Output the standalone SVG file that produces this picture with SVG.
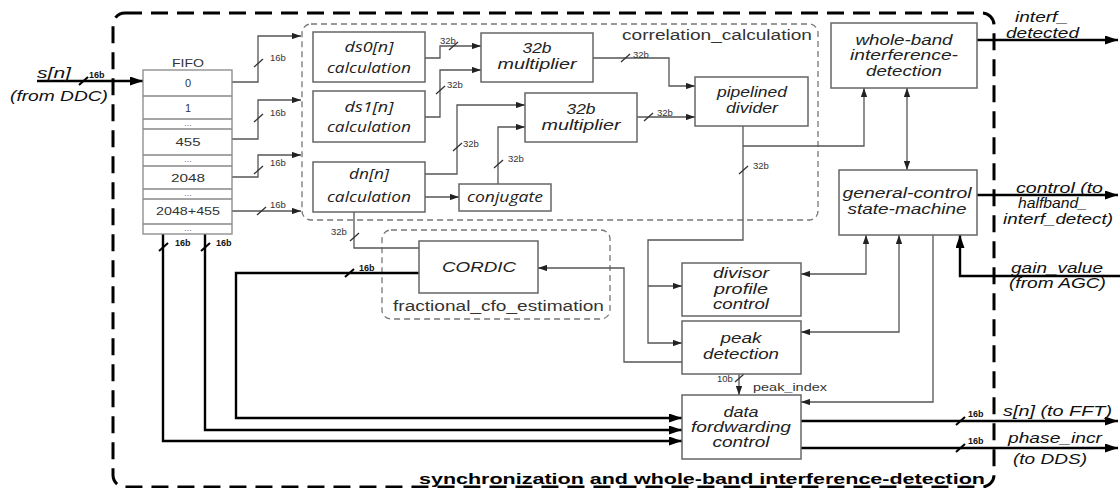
<svg xmlns="http://www.w3.org/2000/svg" width="1120" height="488" viewBox="0 0 1120 488">
  <defs>
    <style>
      .box{fill:#fff;stroke:#666;stroke-width:1.5}
      .fifo{fill:#fff;stroke:#888;stroke-width:1.3}
      .grp{fill:none;stroke:#777;stroke-width:1.3;stroke-dasharray:6 4}
      .outer{fill:none;stroke:#000;stroke-width:3;stroke-dasharray:17 9}
      .w{fill:none;stroke:#555;stroke-width:1.3}
      .bus{fill:none;stroke:#000;stroke-width:2.4}
      .sl{stroke:#333;stroke-width:1.3}
      .slb{stroke:#000;stroke-width:2}
      text{font-family:"Liberation Sans",Arial,sans-serif}
      .ci{font-family:"Open Sans",sans-serif;font-style:italic;font-size:14px;fill:#222;text-anchor:middle}
      .ai{font-style:italic;font-size:14px;fill:#222;text-anchor:middle}
      .io{font-style:italic;font-size:14px;fill:#111}
      .lab{font-size:9.5px;fill:#333}
      .bb{font-weight:bold;font-size:9px;fill:#111}
      .num{font-size:11px;fill:#333;text-anchor:middle}
      .dots{font-size:9px;fill:#777;text-anchor:middle}
      .gname{font-size:14px;fill:#333}
    </style>
    <marker id="ar" viewBox="0 0 10 7" refX="10" refY="3.5" markerWidth="9" markerHeight="6.5" markerUnits="userSpaceOnUse" orient="auto-start-reverse">
      <path d="M0,0L10,3.5L0,7z" fill="#222"/>
    </marker>
    <marker id="arb" viewBox="0 0 13 9" refX="13" refY="4.5" markerWidth="13" markerHeight="9" markerUnits="userSpaceOnUse" orient="auto">
      <path d="M0,0L13,4.5L0,9z" fill="#000"/>
    </marker>
  </defs>

  <rect width="1120" height="488" fill="#fff"/>

  <!-- enclosing block -->
  <g id="sync-block">
    <rect class="outer" x="113" y="13" width="881" height="474" rx="12"/>
    <text x="985" y="484" font-weight="bold" font-size="15" text-anchor="end" textLength="566" lengthAdjust="spacingAndGlyphs">synchronization and whole-band interference-detection</text>
  </g>

  <!-- sub-block frames -->
  <g id="correlation_calculation">
    <rect class="grp" x="302" y="24" width="516" height="196" rx="9"/>
    <text class="gname" x="622" y="40" textLength="190" lengthAdjust="spacingAndGlyphs">correlation_calculation</text>
  </g>
  <g id="fractional_cfo_estimation">
    <rect class="grp" x="382" y="230" width="228" height="89" rx="9"/>
    <text class="gname" x="393" y="311" textLength="211" lengthAdjust="spacingAndGlyphs">fractional_cfo_estimation</text>
  </g>

  <!-- connectors -->
  <g id="connectors">
    <!-- input and FIFO taps -->
    <path class="bus" d="M37,81H143" marker-end="url(#arb)"/>
    <path class="w" d="M232,82H258V36H301" marker-end="url(#ar)"/>
    <path class="w" d="M232,139H258V100H301" marker-end="url(#ar)"/>
    <path class="w" d="M232,177H258V155H301" marker-end="url(#ar)"/>
    <path class="w" d="M232,211H301" marker-end="url(#ar)"/>

    <!-- correlation datapath -->
    <path class="w" d="M425,58H440V46H481" marker-end="url(#ar)"/>
    <path class="w" d="M425,117H440V70H481" marker-end="url(#ar)"/>
    <path class="w" d="M425,174H457V105H525" marker-end="url(#ar)"/>
    <path class="w" d="M425,197H459" marker-end="url(#ar)"/>
    <path class="w" d="M498,184V127H525" marker-end="url(#ar)"/>
    <path class="w" d="M593,58H669V86H695" marker-end="url(#ar)"/>
    <path class="w" d="M637,117H695" marker-end="url(#ar)"/>

    <!-- divider output fan-out -->
    <path class="w" d="M743,126V240H648V343H682" marker-end="url(#ar)"/>
    <path class="w" d="M648,286H682" marker-end="url(#ar)"/>
    <path class="w" d="M743,146H864V88" marker-end="url(#ar)"/>

    <!-- control links -->
    <path class="w" d="M907,88V170" marker-start="url(#ar)" marker-end="url(#ar)"/>
    <path class="w" d="M801,274H866V235" marker-start="url(#ar)" marker-end="url(#ar)"/>
    <path class="w" d="M801,332H899V235" marker-start="url(#ar)" marker-end="url(#ar)"/>
    <path class="w" d="M933,235V402H801" marker-end="url(#ar)"/>

    <!-- CORDIC links -->
    <path class="w" d="M354,212V248H419"/>
    <path class="w" d="M682,362H624V268H538" marker-end="url(#ar)"/>
    <path class="w" d="M739,374V395" marker-end="url(#ar)"/>

    <!-- buses into data forwarding -->
    <path class="bus" d="M419,273H236V418H682" marker-end="url(#arb)"/>
    <path class="bus" d="M205,234V430H682" marker-end="url(#arb)"/>
    <path class="bus" d="M163,234V441H682" marker-end="url(#arb)"/>

    <!-- external ports -->
    <path class="bus" d="M977,40H1118" marker-end="url(#arb)"/>
    <path class="bus" d="M977,195H1118" marker-end="url(#arb)"/>
    <path class="bus" d="M1120,276H960V235" marker-end="url(#arb)"/>
    <path class="bus" d="M801,421H1118" marker-end="url(#arb)"/>
    <path class="bus" d="M801,448H1118" marker-end="url(#arb)"/>

    <!-- bus-width slashes -->
    <g class="slb">
      <line x1="79" y1="85" x2="88" y2="77"/>
      <line x1="159" y1="251" x2="168" y2="243"/>
      <line x1="201" y1="251" x2="210" y2="243"/>
      <line x1="345" y1="277" x2="354" y2="269"/>
      <line x1="956" y1="425" x2="965" y2="417"/>
      <line x1="956" y1="452" x2="965" y2="444"/>
    </g>
    <g class="sl">
      <line x1="254" y1="67" x2="263" y2="59"/>
      <line x1="254" y1="122" x2="263" y2="114"/>
      <line x1="254" y1="174" x2="263" y2="166"/>
      <line x1="257" y1="215" x2="266" y2="207"/>
      <line x1="449" y1="50" x2="458" y2="42"/>
      <line x1="436" y1="94" x2="445" y2="86"/>
      <line x1="453" y1="151" x2="462" y2="143"/>
      <line x1="494" y1="168" x2="503" y2="160"/>
      <line x1="621" y1="62" x2="630" y2="54"/>
      <line x1="644" y1="121" x2="653" y2="113"/>
      <line x1="739" y1="174" x2="748" y2="166"/>
      <line x1="350" y1="241" x2="359" y2="233"/>
      <line x1="735" y1="382" x2="744" y2="374"/>
    </g>

    <!-- width labels -->
    <g class="bb">
      <text x="89" y="78">16b</text>
      <text x="175" y="246">16b</text>
      <text x="216" y="246">16b</text>
      <text x="359" y="271">16b</text>
      <text x="968" y="417">16b</text>
      <text x="968" y="444">16b</text>
    </g>
    <g class="lab">
      <text x="270" y="61">16b</text>
      <text x="270" y="116">16b</text>
      <text x="270" y="166">16b</text>
      <text x="270" y="208">16b</text>
      <text x="440" y="44">32b</text>
      <text x="447" y="88">32b</text>
      <text x="463" y="147">32b</text>
      <text x="508" y="162">32b</text>
      <text x="633" y="58">32b</text>
      <text x="657" y="116">32b</text>
      <text x="753" y="169">32b</text>
      <text x="331" y="235">32b</text>
      <text x="717" y="382">10b</text>
      <text x="753" y="391" font-size="11" textLength="74" lengthAdjust="spacingAndGlyphs">peak_index</text>
    </g>

    <!-- port names -->
    <text class="io" x="37" y="78" textLength="34" lengthAdjust="spacingAndGlyphs">s[n]</text>
    <text class="io" x="10" y="101" textLength="98" lengthAdjust="spacingAndGlyphs">(from DDC)</text>
    <text class="io" x="1015" y="22" textLength="53" lengthAdjust="spacingAndGlyphs">interf_</text>
    <text class="io" x="1006" y="38" textLength="73" lengthAdjust="spacingAndGlyphs">detected</text>
    <text class="io" x="1016" y="193" textLength="87" lengthAdjust="spacingAndGlyphs">control (to</text>
    <text class="io" x="1018" y="208" textLength="69" lengthAdjust="spacingAndGlyphs">halfband_</text>
    <text class="io" x="1003" y="224" textLength="110" lengthAdjust="spacingAndGlyphs">interf_detect)</text>
    <text class="io" x="1011" y="273" textLength="92" lengthAdjust="spacingAndGlyphs">gain_value</text>
    <text class="io" x="1009" y="288" textLength="97" lengthAdjust="spacingAndGlyphs">(from AGC)</text>
    <text class="io" x="1003" y="416" textLength="109" lengthAdjust="spacingAndGlyphs">s[n]  (to FFT)</text>
    <text class="io" x="1008" y="443" textLength="94" lengthAdjust="spacingAndGlyphs">phase_incr</text>
    <text class="io" x="1013" y="464" textLength="74" lengthAdjust="spacingAndGlyphs">(to DDS)</text>
  </g>

  <!-- FIFO -->
  <g id="fifo">
    <text x="188" y="67" font-size="10.5" fill="#333" text-anchor="middle" textLength="32" lengthAdjust="spacingAndGlyphs">FIFO</text>
    <rect class="fifo" x="143" y="70" width="89" height="164"/>
    <path d="M143,96H232M143,119H232M143,129H232M143,155H232M143,166H232M143,189H232M143,199H232M143,224H232" stroke="#888" stroke-width="1.3"/>
    <text class="num" x="188" y="87">0</text>
    <text class="num" x="188" y="112">1</text>
    <text class="dots" x="188" y="126">...</text>
    <text class="num" x="188" y="146" textLength="25" lengthAdjust="spacingAndGlyphs">455</text>
    <text class="dots" x="188" y="162">...</text>
    <text class="num" x="188" y="182" textLength="34" lengthAdjust="spacingAndGlyphs">2048</text>
    <text class="dots" x="188" y="196">...</text>
    <text class="num" x="188" y="215" textLength="64" lengthAdjust="spacingAndGlyphs">2048+455</text>
    <text class="dots" x="188" y="231">...</text>
  </g>

  <!-- correlation blocks -->
  <g id="ds0-calc">
    <rect class="box" x="313" y="32" width="112" height="50"/>
    <text class="ci" x="369" y="52" textLength="49" lengthAdjust="spacingAndGlyphs">ds0[n]</text>
    <text class="ci" x="369" y="73" textLength="84" lengthAdjust="spacingAndGlyphs">calculation</text>
  </g>
  <g id="ds1-calc">
    <rect class="box" x="313" y="91" width="112" height="51"/>
    <text class="ci" x="369" y="112" textLength="49" lengthAdjust="spacingAndGlyphs">ds1[n]</text>
    <text class="ci" x="369" y="132" textLength="84" lengthAdjust="spacingAndGlyphs">calculation</text>
  </g>
  <g id="dn-calc">
    <rect class="box" x="313" y="162" width="112" height="50"/>
    <text class="ci" x="369" y="179" textLength="40" lengthAdjust="spacingAndGlyphs">dn[n]</text>
    <text class="ci" x="369" y="202" textLength="84" lengthAdjust="spacingAndGlyphs">calculation</text>
  </g>
  <g id="multiplier-1">
    <rect class="box" x="481" y="33" width="112" height="49"/>
    <text class="ai" x="537" y="53" font-size="14.5" textLength="29" lengthAdjust="spacingAndGlyphs">32b</text>
    <text class="ai" x="537" y="69" font-size="14.5" textLength="79" lengthAdjust="spacingAndGlyphs">multiplier</text>
  </g>
  <g id="multiplier-2">
    <rect class="box" x="525" y="93" width="112" height="49"/>
    <text class="ai" x="581" y="114" font-size="14.5" textLength="29" lengthAdjust="spacingAndGlyphs">32b</text>
    <text class="ai" x="581" y="130" font-size="14.5" textLength="79" lengthAdjust="spacingAndGlyphs">multiplier</text>
  </g>
  <g id="conjugate">
    <rect class="box" x="459" y="184" width="92" height="27"/>
    <text class="ci" x="505" y="202" textLength="76" lengthAdjust="spacingAndGlyphs">conjugate</text>
  </g>
  <g id="pipelined-divider">
    <rect class="box" x="695" y="77" width="113" height="49"/>
    <text class="ai" x="752" y="97" textLength="70" lengthAdjust="spacingAndGlyphs">pipelined</text>
    <text class="ai" x="752" y="113" textLength="52" lengthAdjust="spacingAndGlyphs">divider</text>
  </g>

  <!-- CORDIC -->
  <g id="cordic">
    <rect class="box" x="419" y="241" width="119" height="52"/>
    <text class="ai" x="479" y="272" textLength="74" lengthAdjust="spacingAndGlyphs">CORDIC</text>
  </g>

  <!-- control blocks -->
  <g id="whole-band-detection">
    <rect class="box" x="831" y="23" width="146" height="65"/>
    <text class="ai" x="904" y="45" textLength="97" lengthAdjust="spacingAndGlyphs">whole-band</text>
    <text class="ai" x="904" y="60" textLength="108" lengthAdjust="spacingAndGlyphs">interference-</text>
    <text class="ai" x="904" y="76" textLength="76" lengthAdjust="spacingAndGlyphs">detection</text>
  </g>
  <g id="general-control">
    <rect class="box" x="839" y="170" width="138" height="65"/>
    <text class="ai" x="907" y="198" textLength="129" lengthAdjust="spacingAndGlyphs">general-control</text>
    <text class="ai" x="907" y="214" textLength="119" lengthAdjust="spacingAndGlyphs">state-machine</text>
  </g>
  <g id="divisor-profile">
    <rect class="box" x="682" y="263" width="119" height="53"/>
    <text class="ai" x="741" y="278" textLength="56" lengthAdjust="spacingAndGlyphs">divisor</text>
    <text class="ai" x="741" y="294" textLength="54" lengthAdjust="spacingAndGlyphs">profile</text>
    <text class="ai" x="741" y="309" textLength="56" lengthAdjust="spacingAndGlyphs">control</text>
  </g>
  <g id="peak-detection">
    <rect class="box" x="682" y="321" width="119" height="53"/>
    <text class="ai" x="741" y="343" textLength="41" lengthAdjust="spacingAndGlyphs">peak</text>
    <text class="ai" x="741" y="359" textLength="76" lengthAdjust="spacingAndGlyphs">detection</text>
  </g>
  <g id="data-forwarding">
    <rect class="box" x="682" y="395" width="119" height="64"/>
    <text class="ai" x="741" y="417" textLength="35" lengthAdjust="spacingAndGlyphs">data</text>
    <text class="ai" x="741" y="432" textLength="100" lengthAdjust="spacingAndGlyphs">fordwarding</text>
    <text class="ai" x="741" y="447" textLength="57" lengthAdjust="spacingAndGlyphs">control</text>
  </g>
</svg>
